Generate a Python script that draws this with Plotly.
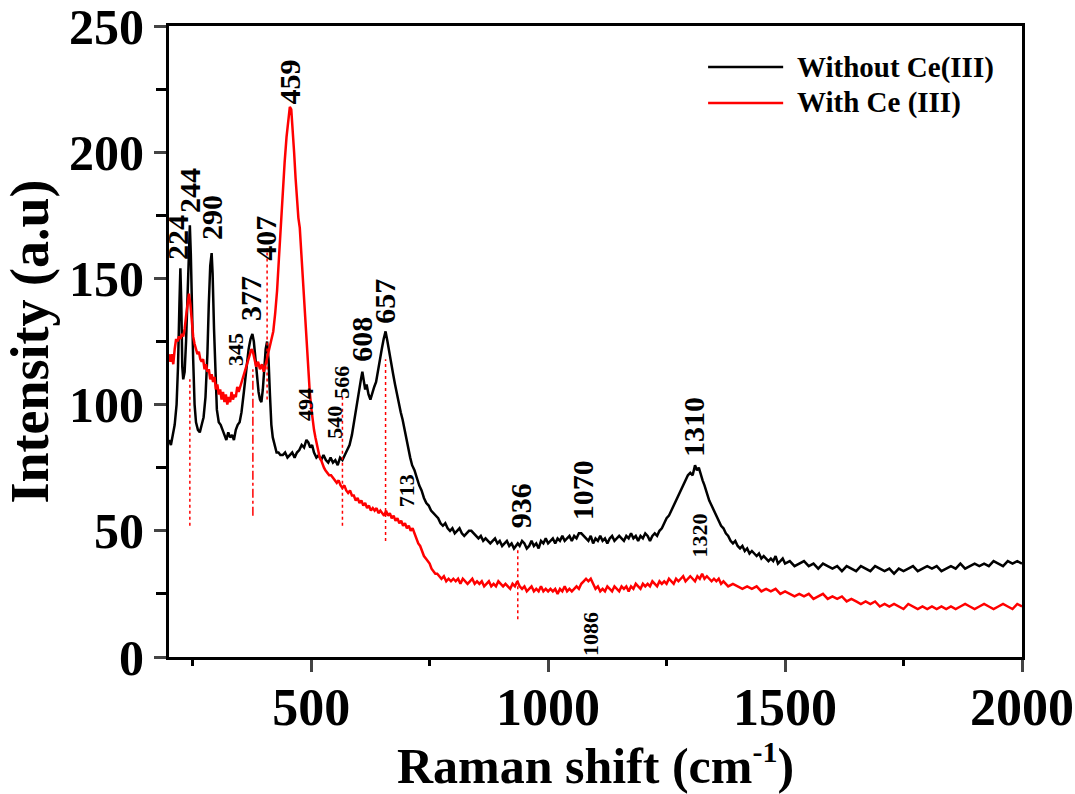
import plotly.graph_objects as go

# ---------------- data ----------------
black_x = [200,204,208,212,216,219,222,224,226,228,230,233,236,239,242,244,246,248,251,254,257,261,265,269,273,277,281,284,287,290,
           292,295,298,301,305,309,313,317,321,325,329,333,337,341,345,349,353,358,363,368,372,376,379,382,385,389,392,395,398,401,
           404,407,410,413,416,419,423,427,431,435,440,445,450,455,460,465,470,475,480,485,490,494,498,502,506,511,516,521,526,531,
           536,541,546,551,556,561,566,571,576,581,586,590,594,598,602,605,608,611,614,617,621,625,629,633,637,641,645,649,653,657,
           661,665,669,673,677,681,685,689,693,697,701,705,709,713,718,723,728,733,738,743,748,753,758,763,768,773,778,783,788,793,
           798,803,808,813,818,823,828,833,838,843,848,853,858,863,868,873,878,883,888,893,898,903,908,913,918,923,928,933,936,940,
           945,950,955,960,965,970,975,980,985,990,995,1000,1005,1010,1015,1020,1025,1030,1035,1040,1045,1050,1055,1060,1065,1070,1075,1080,1085,1090,
           1095,1100,1105,1110,1115,1120,1125,1130,1135,1140,1145,1150,1155,1160,1165,1170,1175,1180,1185,1190,1195,1200,1205,1210,1215,1220,1225,1230,1235,1240,
           1245,1250,1255,1260,1265,1270,1275,1280,1285,1290,1295,1300,1305,1310,1314,1318,1322,1326,1330,1335,1340,1345,1350,1355,1360,1365,1370,1375,1380,1385,
           1390,1395,1400,1405,1410,1415,1420,1425,1430,1435,1440,1445,1450,1455,1460,1465,1470,1475,1480,1485,1490,1495,1500,1510,1520,1530,1540,1550,1560,1570,
           1580,1590,1600,1610,1620,1630,1640,1650,1660,1670,1680,1690,1700,1710,1720,1730,1740,1750,1760,1770,1780,1790,1800,1810,1820,1830,1840,1850,1860,1870,
           1880,1890,1900,1910,1920,1930,1940,1950,1960,1970,1980,1990,2000]
black_y = [86,84,88,92,100,115,140,154,140,115,110,113,125,145,163,171,160,140,118,100,93,90,89,92,95,103,120,140,155,160,
           152,130,110,98,93,92,90,88,86,89,87,88,86,90,92,93,97,105,115,122,126,128,125,118,112,105,102,101,106,115,
           122,125,118,104,92,87,84,81,81,80,80,81,79,80,81,79,81,82,84,83,86,85,83,84,81,79,80,78,80,78,
           77,79,77,78,76,79,78,80,82,84,88,93,98,103,107,110,113,110,106,108,104,102,105,107,109,114,118,122,126,129,
           125,120,116,112,108,104,100,97,94,90,86,82,79,76,74,71,68,66,63,61,60,58,57,56,55,53,52,53,51,50,
           51,49,50,51,49,48,49,50,50,49,48,47,48,46,47,46,45,46,47,45,46,44,45,46,44,45,43,44,45,44,
           46,45,43,44,46,44,45,43,46,45,47,45,46,47,45,47,46,48,46,47,48,46,48,47,49,49,48,47,46,48,
           45,47,46,48,46,47,45,47,48,46,47,48,47,46,48,47,49,47,48,46,48,47,49,48,46,48,49,48,50,51,
           53,55,56,58,60,62,64,66,68,70,72,73,72,76,74,75,72,70,68,65,62,60,58,56,54,52,51,49,48,46,
           45,46,44,43,44,42,43,41,42,41,40,41,39,40,39,38,39,38,40,37,38,39,37,38,36,37,38,36,37,35,
           37,36,35,36,34,36,35,34,36,35,34,36,35,34,35,33,35,34,35,36,34,35,36,35,36,34,35,36,35,37,
           35,36,37,36,37,36,38,37,36,38,37,38,37]

red_x = [200,203,206,209,212,215,218,221,224,227,230,233,236,239,242,245,248,251,254,257,260,263,266,269,272,275,278,281,284,287,
         290,293,296,299,302,305,308,311,314,317,320,323,326,329,332,335,338,341,344,347,350,354,358,362,366,370,374,377,380,384,
         388,392,396,400,404,408,412,416,420,424,428,432,436,440,444,448,452,455,458,461,464,467,470,473,476,479,482,485,488,491,
         494,497,500,503,506,509,512,515,518,521,524,527,530,534,538,542,546,550,554,558,562,566,570,574,578,582,586,590,594,598,
         602,606,610,614,618,622,626,630,634,638,642,646,650,654,658,662,666,670,674,678,682,686,690,694,698,702,706,710,714,718,
         722,726,730,734,738,742,746,750,754,758,762,766,770,775,780,785,790,795,800,805,810,815,820,825,830,835,840,845,850,855,
         860,865,870,875,880,885,890,895,900,905,910,915,920,925,930,935,940,945,950,955,960,965,970,975,980,985,990,995,1000,1005,
         1010,1015,1020,1025,1030,1035,1040,1045,1050,1055,1060,1065,1070,1075,1080,1085,1090,1095,1100,1105,1110,1115,1120,1125,1130,1135,1140,1145,1150,1155,
         1160,1165,1170,1175,1180,1185,1190,1195,1200,1205,1210,1215,1220,1225,1230,1235,1240,1245,1250,1255,1260,1265,1270,1275,1280,1285,1290,1295,1300,1305,
         1310,1315,1320,1325,1330,1335,1340,1345,1350,1355,1360,1365,1370,1375,1380,1390,1400,1410,1420,1430,1440,1450,1460,1470,1480,1490,1500,1510,1520,1530,
         1540,1550,1560,1570,1580,1590,1600,1610,1620,1630,1640,1650,1660,1670,1680,1690,1700,1710,1720,1730,1740,1750,1760,1770,1780,1790,1800,1810,1820,1830,
         1840,1850,1860,1870,1880,1890,1900,1910,1920,1930,1940,1950,1960,1970,1980,1990,2000]
red_y = [120,117,120,116,122,126,125,127,126,128,127,130,135,140,144,140,133,127,124,122,120,121,118,117,118,114,116,113,114,110,
         112,109,111,106,108,104,106,102,105,101,104,100,103,101,105,102,104,103,107,105,107,109,112,115,117,120,122,121,118,115,
         117,114,116,113,116,119,122,125,129,136,145,158,172,186,196,206,214,218,217,210,200,190,180,174,170,160,150,140,130,122,
         113,105,99,94,90,87,84,82,79,78,76,75,74,73,72,72,71,70,69,70,68,67,68,66,65,66,64,64,62,63,
         61,62,60,61,59,60,58,59,58,59,57,58,57,56,58,56,57,55,56,54,55,53,54,52,53,51,52,50,51,49,
         47,45,44,42,40,39,38,37,35,34,33,33,32,31,32,30,31,30,31,30,31,29,31,30,29,30,31,29,30,29,
         30,28,29,30,28,29,28,30,29,28,29,28,27,29,28,30,28,27,28,26,27,28,26,27,26,28,26,27,26,27,
         26,27,25,27,26,28,26,27,26,27,28,27,29,30,31,30,31,29,27,28,26,27,26,28,27,26,28,27,26,28,
         27,28,26,28,27,29,28,27,29,28,29,28,30,29,28,30,29,30,29,31,30,29,31,30,31,32,30,31,32,31,
         30,32,31,33,31,32,31,30,31,30,31,29,30,29,28,29,28,27,28,27,28,26,27,26,27,25,26,25,24,25,
         24,25,23,24,25,23,24,23,24,22,23,22,21,22,21,22,20,21,20,21,20,19,21,20,19,20,19,20,19,20,
         19,20,19,20,21,20,19,20,21,20,19,20,21,20,19,21,20]

series_names = ["Without Ce(III)", "With Ce (III)"]
series_colors = ["#000000", "#ff0000"]

peak_labels = ["224", "244", "290", "345", "377", "407", "459", "494", "540", "566",
               "608", "657", "713", "936", "1070", "1310", "1320", "1086"]
label_x = [217, 242, 291, 339, 372, 402, 455, 488, 549, 565,
           607, 655, 702, 942, 1073, 1307, 1320, 1088]
label_y = [166, 185, 174, 122, 142, 166, 228, 100, 93, 109,
           126, 141, 66, 60, 66, 91, 48, 9]
label_small = [False, False, False, True, False, False, False, True, True, True,
               False, False, True, False, False, False, True, True]

marker_x = [244, 377, 407, 566, 657, 936]
marker_y0 = [52, 56, 102, 52, 46, 15]
marker_y1 = [110, 114, 162, 104, 118, 43]
marker_dash = ["dot", "dashdot", "dot", "dot", "dot", "dot"]

FONT = "Liberation Serif, Times New Roman, serif"

fig = go.Figure()
fig.add_trace(go.Scatter(x=black_x, y=black_y, mode="lines", name=series_names[0],
                         line=dict(color=series_colors[0], width=2.5), showlegend=False))
fig.add_trace(go.Scatter(x=red_x, y=red_y, mode="lines", name=series_names[1],
                         line=dict(color=series_colors[1], width=2.5), showlegend=False))

# reference marker lines
for mx, y0, y1, d in zip(marker_x, marker_y0, marker_y1, marker_dash):
    fig.add_shape(type="line", xref="x", yref="y", x0=mx, x1=mx, y0=y0, y1=y1,
                  line=dict(color="#ff0000", width=1.5, dash=d))

# peak labels
for t, lx, ly, sm in zip(peak_labels, label_x, label_y, label_small):
    fig.add_annotation(x=lx, y=ly, xref="x", yref="y", text=t, textangle=-90,
                       showarrow=False,
                       font=dict(family=FONT, size=22 if sm else 30, color="black", weight="bold"))

# manual legend
leg_y = [0.935, 0.878]
for name, col, ly in zip(series_names, series_colors, leg_y):
    fig.add_shape(type="line", xref="paper", yref="paper", x0=0.632, x1=0.720, y0=ly, y1=ly,
                  line=dict(color=col, width=2.5))
    fig.add_annotation(x=0.734, y=ly, xref="paper", yref="paper", text=name, showarrow=False,
                       xanchor="left", yanchor="middle",
                       font=dict(family=FONT, size=29, color="black", weight="bold"))

fig.update_layout(
    width=1075, height=794,
    margin=dict(l=169, r=53, t=26, b=137),
    paper_bgcolor="white", plot_bgcolor="white",
    font=dict(family=FONT, color="black"),
)
fig.update_xaxes(
    range=[200, 2000], tick0=0, dtick=500, ticks="outside", ticklen=12, tickwidth=3,
    showline=True, linewidth=3, linecolor="black", mirror=True, showgrid=False, zeroline=False,
    automargin=False, ticklabeloverflow="allow", ticklabelstandoff=-9,
    tickfont=dict(family=FONT, size=52, color="black", weight="bold"),
    minor=dict(dtick=250, tick0=0, ticks="outside", ticklen=6, tickwidth=3, tickcolor="black"),
    title=dict(text="Raman shift (cm<sup><span style='font-size:30px'>-1</span></sup>)", standoff=21,
               font=dict(family=FONT, size=50, color="black", weight="bold")),
)
fig.update_yaxes(
    range=[0, 250.01], tick0=0, dtick=50, ticks="outside", ticklen=12, tickwidth=3,
    showline=True, linewidth=3, linecolor="black", mirror=True, showgrid=False, zeroline=False,
    automargin=False, ticklabeloverflow="allow",
    tickfont=dict(family=FONT, size=50, color="black", weight="bold"),
    minor=dict(dtick=25, tick0=0, ticks="outside", ticklen=10, tickwidth=3, tickcolor="black"),
    title=dict(text="Intensity (a.u)", standoff=10,
               font=dict(family=FONT, size=54, color="black", weight="bold")),
)

fig.write_html("out.html")
